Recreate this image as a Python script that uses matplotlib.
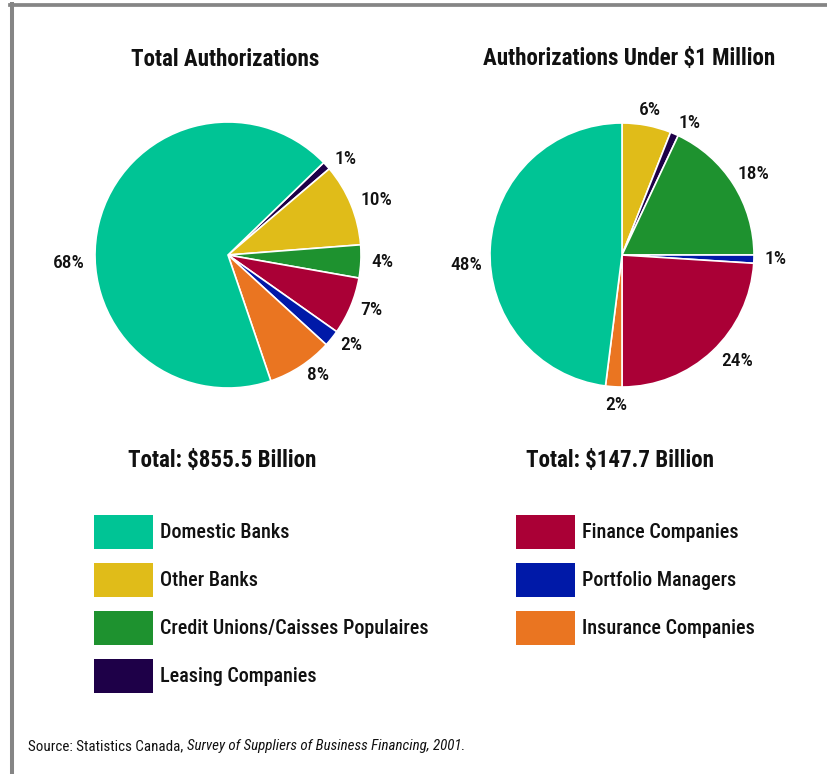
import matplotlib
matplotlib.use("Agg")
import matplotlib.pyplot as plt
from matplotlib.patches import Rectangle
from matplotlib.lines import Line2D
from matplotlib import font_manager
import numpy as np

# --- data -------------------------------------------------------------
colors = {
    "Domestic Banks": "#00C495",
    "Other Banks": "#E0BC19",
    "Credit Unions/Caisses Populaires": "#1E922F",
    "Leasing Companies": "#1E0048",
    "Finance Companies": "#AA0036",
    "Portfolio Managers": "#0019A8",
    "Insurance Companies": "#EA7521",
}

# Total authorizations (clockwise order of the wedges)
total_order = ["Leasing Companies", "Other Banks", "Credit Unions/Caisses Populaires",
               "Finance Companies", "Portfolio Managers", "Insurance Companies",
               "Domestic Banks"]
total_pct = [1, 10, 4, 7, 2, 8, 68]

# Authorizations under $1 million (clockwise order of the wedges)
small_order = ["Other Banks", "Leasing Companies", "Credit Unions/Caisses Populaires",
               "Portfolio Managers", "Finance Companies", "Insurance Companies",
               "Domestic Banks"]
small_pct = [6, 1, 18, 1, 24, 2, 48]

titles = ["Total Authorizations", "Authorizations Under $1 Million"]
totals = ["Total: $855.5 Billion", "Total: $147.7 Billion"]

legend_left = ["Domestic Banks", "Other Banks", "Credit Unions/Caisses Populaires",
               "Leasing Companies"]
legend_right = ["Finance Companies", "Portfolio Managers", "Insurance Companies"]

source_plain = "Source: Statistics Canada, "
source_italic = "Survey of Suppliers of Business Financing, 2001"

# --- fonts ------------------------------------------------------------
fonts = font_manager.fontManager.ttflist
have = {f.name for f in fonts}
bold_have = {f.name for f in fonts if f.weight in (700, "bold")}


def pick(cands, pool):
    for c in cands:
        if c in pool:
            return c
    return "DejaVu Sans"


REG = pick(["Roboto Condensed", "Archivo Narrow", "PT Sans Narrow", "Liberation Sans Narrow"], have)
BOLD = pick(["Roboto Condensed", "Archivo Narrow", "IBM Plex Sans Condensed", "PT Sans Narrow",
             "Fira Sans Condensed"], bold_have)
plt.rcParams["font.family"] = [REG, "DejaVu Sans"]
plt.rcParams["font.weight"] = "medium"

W, H = 827, 774
fig = plt.figure(figsize=(W / 100, H / 100), dpi=100)
fig.patch.set_facecolor("white")
renderer = fig.canvas.get_renderer()


def fx(px):
    return px / W


def fy(py):
    return 1 - py / H


def fit_size(text, target_px, **kw):
    """Font size (pt) at which `text` renders target_px wide."""
    t = fig.text(0, 0, text, fontsize=20, **kw)
    w = t.get_window_extent(renderer).width
    t.remove()
    return 20 * target_px / w


# frame lines (top and left)
fig.add_artist(Line2D([fx(10), fx(827)], [fy(4.8), fy(4.8)], color="#858585", lw=2.7))
fig.add_artist(Line2D([fx(12), fx(12)], [fy(3.5), fy(774)], color="#858585", lw=2.9))

pct_size = fit_size("68%", 32)


def draw_pie(cx, cy, r, order, pct, start, overrides):
    ax = fig.add_axes([fx(cx - r), fy(cy + r), fx(2 * r), 2 * r / H])
    wedges, _ = ax.pie(pct, colors=[colors[c] for c in order], startangle=start,
                       counterclock=False, radius=1,
                       wedgeprops=dict(edgecolor="white", linewidth=1.2))
    ax.set_xlim(-1, 1)
    ax.set_ylim(-1, 1)
    ax.set_aspect("equal")
    ax.axis("off")
    for i, (w, p) in enumerate(zip(wedges, pct)):
        ang = np.deg2rad((w.theta1 + w.theta2) / 2)
        dist = 1.08
        ha = "left" if np.cos(ang) > 0 else "right"
        if i in overrides:
            a, dist, ha = overrides[i]
            ang = np.deg2rad(a)
        ax.text(dist * np.cos(ang), dist * np.sin(ang), f"{p}%", ha=ha, va="center",
                fontsize=pct_size, color="#111111", clip_on=False)
    return ax


draw_pie(228, 255, 133, total_order, total_pct, 44,
         {6: (183, 1.08, "right")})
draw_pie(622, 255, 132, small_order, small_pct, 90,
         {5: (-92, 1.14, "center"), 6: (184, 1.06, "right"),
          0: (79, 1.12, "center"), 1: (67, 1.09, "left"), 2: (35, 1.07, "left"),
          4: (-47, 1.1, "left")})

# titles and totals
bold_kw = dict(family=[BOLD, "DejaVu Sans"], fontweight="bold")
title_size = fit_size(titles[0], 189, **bold_kw)
for txt, x, y in ((titles[0], 225, 59), (titles[1], 629, 59),
                  (totals[0], 222, 460), (totals[1], 620, 460)):
    fig.text(fx(x), fy(y), txt, ha="center", va="center", fontsize=title_size,
             color="#111111", **bold_kw)

# legend
leg_size = fit_size("Credit Unions/Caisses Populaires", 268)
row_y = [532, 580, 628, 676]
for col_x, names in ((94, legend_left), (516, legend_right)):
    for name, yc in zip(names, row_y):
        fig.add_artist(Rectangle((fx(col_x), fy(yc + 17)), fx(58.5), 34 / H,
                                 facecolor=colors[name], edgecolor="none"))
        fig.text(fx(col_x + 66), fy(yc), name, ha="left", va="center",
                 fontsize=leg_size, color="#111111")

# source note
src_kw = dict(fontweight="normal")
src_size = fit_size(source_plain + source_italic + ".", 447, **src_kw)
t1 = fig.text(fx(28), fy(746), source_plain, ha="left", va="center",
              fontsize=src_size, color="#111111", **src_kw)
bb = t1.get_window_extent(renderer)
t2 = fig.text(bb.x1 / W, fy(746), source_italic, ha="left", va="center",
              fontsize=src_size, style="italic", color="#111111", **src_kw)
bb2 = t2.get_window_extent(renderer)
fig.text(bb2.x1 / W, fy(746), ".", ha="left", va="center", fontsize=src_size,
         color="#111111", **src_kw)

fig.savefig("out.png", dpi=100, facecolor="white")
